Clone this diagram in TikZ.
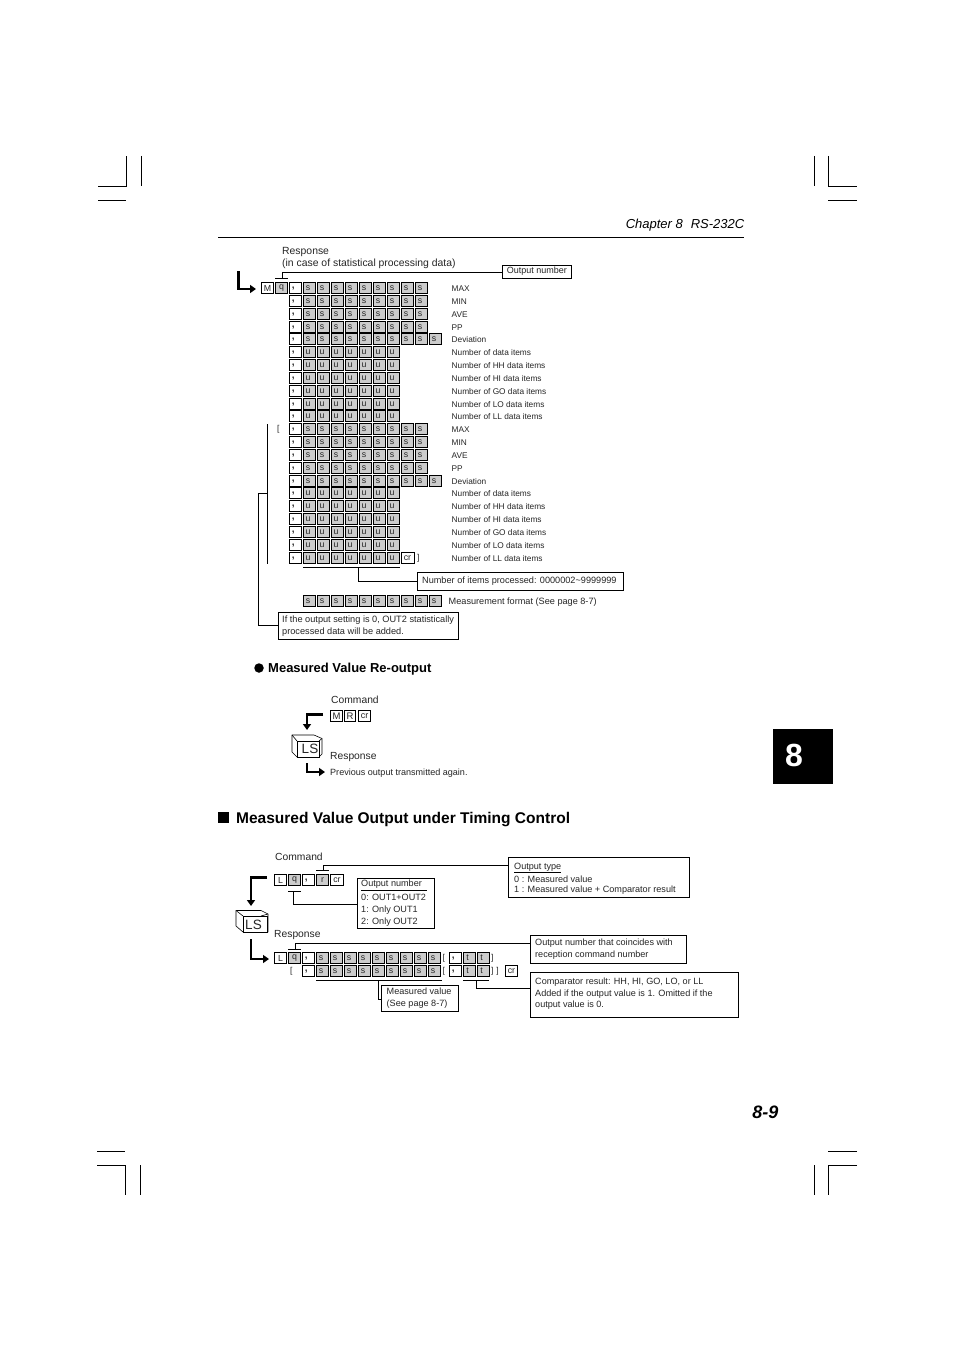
\documentclass[tikz,border=0pt]{standalone}
\usepackage{fontspec}
\setmainfont{Liberation Sans}
\usetikzlibrary{arrows.meta}
\definecolor{cellgray}{HTML}{CCCCCC}
\newcommand{\fs}[1]{\fontsize{#1}{#1}\selectfont}
\newcommand{\cm}{\raisebox{-2.6pt}{,}\kern4.5pt}
\newcommand{\lft}[1]{#1\kern3pt}
\tikzset{
 x=1pt,y=-1pt,
 txt/.style={anchor=west,inner sep=0pt,text=black!85},
 lab/.style={txt,font=\fs{8.3}},
 cellw/.style={draw=black,line width=.75pt,fill=white,minimum width=12.2pt,minimum height=11.6pt,inner sep=0pt,font=\fs{8.8},text=black!85},
 cellg/.style={cellw,fill=cellgray},
 sc/.style={cellg,font=\fs{8.8},text=black!85},
 comma/.style={cellw,font=\fs{10}\bfseries},
 lead/.style={draw=black,line width=.75pt},
 box/.style={draw=black,line width=.75pt,fill=white,anchor=north west,inner sep=0pt},
 btxt/.style={txt,anchor=north west,align=left,font=\fs{9.1}},
 fat/.style={draw=black,line width=2.9pt,-{Triangle[length=6pt,width=8pt]}},
 crop/.style={draw=black,line width=.5pt},
 cube/.style={draw=black,line width=.6pt,fill=white,line join=round},
}
\begin{document}
\begin{tikzpicture}
\useasboundingbox[fill=white] (0,0) rectangle (954,1351);
% crop marks
\draw[crop] (98,186)--(126,186)--(126,156) (98,200)--(126,200) (141,156)--(141,186);
\draw[crop] (814,156)--(814,186) (828,156)--(828,186)--(857,186) (828,200)--(857,200);
\draw[crop] (97,1151)--(125,1151) (97,1165)--(125,1165)--(125,1195) (140,1165)--(140,1195);
\draw[crop] (814,1165)--(814,1195) (857,1151)--(828,1151) (857,1165)--(828,1165)--(828,1195);
% header
\node[txt,anchor=east,font=\fs{13}\itshape,text=black] (chap) at (744.5,225) {Chapter 8\,\, RS-232C};
\draw[line width=.6pt] (218,237)--(744,237);
% tab
\node[fill=black,minimum width=60pt,minimum height=55pt,inner sep=0pt,anchor=north west] (tab) at (773,729) {};
\node[inner sep=0pt,text=white,font=\fs{32}\bfseries] (tabn) at (794,755) {8};
\node[txt,anchor=east,font=\fs{18}\bfseries\itshape,text=black] (pg) at (778.5,1112) {8-9};
% --- statistical response
\node[txt,anchor=north west,align=left,font=\fs{10.4}] (resp1) at (282,247) {Response\\[1.6pt](in case of statistical processing data)};
\node[cellw] (M) at (267.5,288) {M};
\node[cellg] (q) at (281.5,288) {q};
\coordinate (fatA) at (238.5,271);
\coordinate (fatB) at (238.5,289);
\coordinate (fatC) at (256,289);
\draw[fat] (fatA)--(fatB)--(fatC);
\foreach \y/\k/\t/\i in {
 288/s/MAX/1,301/s/MIN/2,314/s/AVE/3,327/s/PP/4,339/d/Deviation/5,
 352/u/Number of data items/6,365/u/Number of HH data items/7,378/u/Number of HI data items/8,391/u/Number of GO data items/9,404/u/Number of LO data items/10,416/u/Number of LL data items/11,
 429/s/MAX/12,442/s/MIN/13,455/s/AVE/14,468/s/PP/15,481/d/Deviation/16,
 493/u/Number of data items/17,506/u/Number of HH data items/18,519/u/Number of HI data items/19,532/u/Number of GO data items/20,545/u/Number of LO data items/21,558/u/Number of LL data items/22}{
 \node[comma] (c\i) at (295.6,\y) {\cm};
 \node[lab] (l\i) at (451.5,\y+0.5) {\t};
 \if\k u
  \foreach \j in {0,...,6}{\node[sc] (u\i-\j) at ({309.5+14*\j},\y) {\lft{u}};}
 \else
  \foreach \j in {0,...,8}{\node[sc] (s\i-\j) at ({309.5+14*\j},\y) {\lft{s}};}
  \if\k d \node[sc] (x\i) at (435.5,\y) {\lft{s}}; \fi
 \fi
}
\node[cellw,minimum width=13pt] (crA) at (407.5,558) {cr};
\node[txt,font=\fs{8.5}] (brk1) at (417,558) {]};
\node[txt,font=\fs{8.5}] (brk0) at (277,429) {[};
% output number
\node[box,minimum width=69pt,minimum height=13.5pt,font=\fs{9},text=black!85] (onum) at (502,264.5) {Output number};
\coordinate (qbL) at (275,278); \coordinate (qbR) at (288,278); \coordinate (qbM) at (282,278); \coordinate (qbT) at (282,272);
\draw[lead] (qbL)--(qbR) (qbM)--(qbT)--(qbT-|onum.west);
% items processed
\node[box,minimum width=206pt,minimum height=18pt,font=\fs{9.15},text=black!85] (nitems) at (417,572) {Number of items processed: 0000002\textasciitilde9999999\kern2pt};
\coordinate (uL) at (303,567); \coordinate (uR) at (400,567); \coordinate (uM) at (358,567); \coordinate (uB) at (358,581);
\draw[lead] (uL)--(uR) (uM)--(uB)--(uB-|nitems.west);
% measurement format
\foreach \j in {0,...,9}{\node[sc] (mf\j) at ({309.5+14*\j},601) {\lft{s}};}
\node[lab,font=\fs{9.15}] (mflab) at (448.5,602.5) {Measurement format (See page 8-7)};
% note
\node[box,minimum width=180pt,minimum height=27pt] (note) at (278,612) {};
\node[btxt,font=\fs{9.2}] (notet) at (282,615.5) {If the output setting is 0, OUT2 statistically\\[2.6pt]processed data will be added.};
\coordinate (brT) at (267,424); \coordinate (brB) at (267,564); \coordinate (brM) at (267,493); \coordinate (brL) at (258,493); \coordinate (brD) at (258,625);
\draw[lead] (brT)--(brB) (brM)--(brL)--(brD)--(brD-|note.west);
% re-output
\node[circle,fill=black,minimum size=9.5pt,inner sep=0pt] (dot) at (259,668) {};
\node[txt,font=\fs{13}\bfseries,text=black] (h1) at (268,669.5) {Measured Value Re-output};
\node[txt,font=\fs{10.3}] (cmd1) at (331,699.5) {Command};
\node[cellw,minimum width=11.5pt,minimum height=10.5pt,font=\fs{9.5}] (rM) at (336.5,716) {M};
\node[cellw,minimum width=11.5pt,minimum height=10.5pt,font=\fs{9.5}] (rR) at (350,716) {R};
\node[cellw,minimum width=12.5pt,minimum height=10.5pt,font=\fs{9}] (rC) at (364.5,716) {cr};
\coordinate (a1s) at (323,714.5); \coordinate (a1m) at (307,714.5); \coordinate (a1e) at (307,730);
\draw[fat] (a1s)--(a1m)--(a1e);
% cube 1
\draw[cube] (292,735)--(314,735)--(322,738.5)--(322,754)--(319,757)--(297,757)--(292,752)--cycle;
\draw[cube] (292,735)--(297,741) (319,741)--(322,738.5);
\node[draw=black,line width=.7pt,fill=white,minimum width=22pt,minimum height=16pt,inner sep=0pt,font=\fs{13.5},text=black!85] (ls1) at (308,749) {\kern4pt LS};
\node[txt,font=\fs{10.3}] (rsp2) at (330,757) {Response};
\coordinate (a2s) at (307,763); \coordinate (a2m) at (307,772); \coordinate (a2e) at (325,772);
\draw[fat] (a2s)--(a2m)--(a2e);
\node[lab,font=\fs{9.05}] (prev) at (330,773) {Previous output transmitted again.};
% timing heading
\node[fill=black,minimum size=11pt,inner sep=0pt] (sq) at (223.5,817.5) {};
\node[txt,font=\fs{15.5}\bfseries,text=black] (h2) at (236,819.5) {Measured Value Output under Timing Control};
% --- timing control
\node[txt,font=\fs{10.3}] (cmd2) at (275,856.5) {Command};
\node[cellw] (tL) at (280.5,880) {L};
\node[cellg] (tq) at (294.5,880) {q};
\node[comma] (tc) at (308.5,880) {\cm};
\node[cellg] (tr) at (322.5,880) {r};
\node[cellw,minimum width=13pt] (tcr) at (337,880) {cr};
\coordinate (a3s) at (267,877.5); \coordinate (a3m) at (251,877.5); \coordinate (a3e) at (251,906);
\draw[fat] (a3s)--(a3m)--(a3e);
% cube 2
\draw[cube] (236,910.5)--(261,910.5)--(268,914)--(268,932)--(243,932)--(236,926)--cycle;
\draw[cube] (236,910.5)--(243,916) (261,916)--(268,914);
\node[draw=black,line width=.7pt,fill=white,minimum width=24.5pt,minimum height=16pt,inner sep=0pt,font=\fs{13.5},text=black!85] (ls2) at (255.5,924.5) {LS\kern4pt};
\node[txt,font=\fs{10.3}] (rsp3) at (274,935.5) {Response};
\coordinate (a4s) at (251,939); \coordinate (a4m) at (251,959); \coordinate (a4e) at (269,959);
\draw[fat] (a4s)--(a4m)--(a4e);
% output type box
\node[box,minimum width=181pt,minimum height=40pt] (otype) at (508,857) {};
\node[btxt] (otypet) at (514,862.5) {Output type\\[4.6pt]0 : Measured value\\[0.6pt]1 : Measured value + Comparator result};
\coordinate (ou1) at (514,872.5); \coordinate (ou2) at (561,872.5);
\draw[line width=.5pt] (ou1)--(ou2);
\coordinate (rbL) at (316,870); \coordinate (rbR) at (329,870); \coordinate (rbM) at (323,870); \coordinate (rbT) at (323,865);
\draw[lead] (rbL)--(rbR) (rbM)--(rbT)--(rbT-|otype.west);
% output number box
\node[box,minimum width=77pt,minimum height=50pt] (onb) at (357,878) {};
\node[btxt] (onbt) at (361,879.5) {Output number\\[5pt]0: OUT1+OUT2\\[3pt]1: Only OUT1\\[3pt]2: Only OUT2};
\coordinate (nu1) at (361,890.5); \coordinate (nu2) at (427,890.5);
\draw[line width=.5pt] (nu1)--(nu2);
\coordinate (qcL) at (288,891); \coordinate (qcR) at (301,891); \coordinate (qcM) at (293.5,891); \coordinate (qcB) at (293.5,904.5);
\draw[lead] (qcL)--(qcR) (qcM)--(qcB)--(qcB-|onb.west);
% response rows
\node[cellw] (vL) at (280.5,958) {L};
\node[cellg] (vq) at (294.5,958) {q};
\node[txt,font=\fs{8.5}] (b21) at (290,971) {[};
\foreach \y/\i in {958/1,971/2}{
 \node[comma] (vc\i) at (308.5,\y) {\cm};
 \foreach \j in {0,...,8}{\node[sc] (vs\i-\j) at ({322.5+14*\j},\y) {\lft{s}};}
 \node[txt,font=\fs{8.5}] (b\i o) at (442.5,\y) {[};
 \node[comma] (vk\i) at (455.5,\y) {\cm};
 \node[sc] (vt\i a) at (469,\y) {\lft{t}};
 \node[sc] (vt\i b) at (483,\y) {\lft{t}};
}
\node[txt,font=\fs{8.5}] (b1c) at (491,958) {]};
\node[txt,font=\fs{8.5}] (b2c) at (491,971) {]\,\,]};
\node[cellw,minimum width=12.5pt] (vcr) at (511.5,971) {cr};
% output number coincide
\node[box,minimum width=156pt,minimum height=28pt] (onc) at (530,935) {};
\node[btxt] (onct) at (535,938.5) {Output number that coincides with\\[3pt]reception command number};
\coordinate (vbL) at (288,949); \coordinate (vbR) at (301,949); \coordinate (vbM) at (295,949); \coordinate (vbT) at (295,943);
\draw[lead] (vbL)--(vbR) (vbM)--(vbT)--(vbT-|onc.west);
% comparator
\node[box,minimum width=208pt,minimum height=45pt] (cmp) at (530,972) {};
\node[btxt] (cmpt) at (535,977.7) {Comparator result: HH, HI, GO, LO, or LL\\[2.7pt]Added if the output value is 1. Omitted if the\\[2.5pt]output value is 0.};
\coordinate (tuL) at (463,980); \coordinate (tuR) at (489,980); \coordinate (tuM) at (476,980); \coordinate (tuB) at (476,988);
\draw[lead] (tuL)--(tuR) (tuM)--(tuB)--(tuB-|cmp.west);
% measured value
\node[box,minimum width=77pt,minimum height=26pt] (mv) at (381,985) {};
\node[btxt] (mvt) at (386.5,987.5) {Measured value\\[3pt](See page 8-7)};
\coordinate (suL) at (316,980); \coordinate (suR) at (442,980); \coordinate (suM) at (378,980); \coordinate (suB) at (378,999);
\draw[lead] (suL)--(suR) (suM)--(suB)--(suB-|mv.west);
\end{tikzpicture}
\end{document}
